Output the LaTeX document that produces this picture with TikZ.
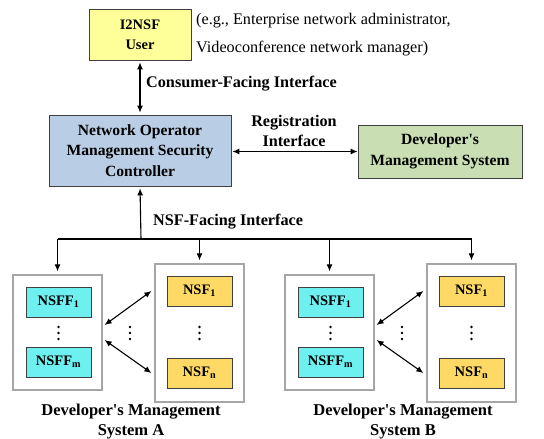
\documentclass[tikz,border=0pt]{standalone}
\usepackage{fontspec}
\setmainfont{Liberation Serif}
\usetikzlibrary{arrows.meta,shadows}
\definecolor{usercolor}{HTML}{FFFF99}
\definecolor{ctrlcolor}{HTML}{B9CDE5}
\definecolor{devcolor}{HTML}{C9DFB3}
\definecolor{nsffcolor}{HTML}{6EF0F0}
\definecolor{nsfcolor}{HTML}{FFD966}
\newcommand{\boxFont}{\bfseries\fontsize{14.5}{20}\selectfont}
\newcommand{\bigBoxFont}{\bfseries\fontsize{15.6}{20.5}\selectfont}
\newcommand{\labelFont}{\bfseries\fontsize{16.2}{20}\selectfont}

\begin{document}
\begin{tikzpicture}[x=1pt, y=-1pt,
		box/.style={draw=black!75, line width=0.8pt, inner sep=0pt, align=center, font=\boxFont,
			drop shadow={shadow xshift=1.2pt, shadow yshift=-1.2pt, opacity=0.3}},
		group/.style={draw=black!35, line width=1.3pt, fill=white, inner sep=0pt,
			drop shadow={shadow xshift=1pt, shadow yshift=-1pt, opacity=0.15}},
		func/.style={box, minimum width=65pt, minimum height=30pt},
		label/.style={font=\labelFont, align=center, inner sep=0pt},
		link/.style={line width=1.1pt, {Latex[length=7pt,width=6pt]}-{Latex[length=7pt,width=6pt]}},
		feed/.style={line width=1.1pt, -{Latex[length=7pt,width=6pt]}},
	]
	\useasboundingbox (0,0) rectangle (544,439);

	% top part
	\node[box, fill=usercolor, minimum width=102pt, minimum height=51pt] (user) at (140,34.5) {I2NSF\\User};
	\node[anchor=west, align=left, inner sep=0pt, font=\fontsize{16.2}{20}\selectfont] (example) at (196,34.5)
		{(e.g., Enterprise network administrator,\\[8pt]Videoconference network manager)};
	\node[box, fill=ctrlcolor, font=\bigBoxFont, minimum width=182pt, minimum height=71pt] (ctrl) at (140,150.5)
		{Network Operator\\Management Security\\Controller};
	\node[box, fill=devcolor, font=\bigBoxFont, minimum width=164pt, minimum height=53pt] (dms) at (440,151.5)
		{Developer\textquotesingle s\\Management System};

	\draw[link, shorten <=2pt, shorten >=2pt] (user) -- (ctrl);
	\node[label, anchor=west] (cfi) at (146,84) {Consumer-Facing Interface};

	\draw[link, shorten <=1pt] (ctrl.east |- dms) -- (dms.west);
	\node[label] (ri) at (294,131) {Registration\\Interface};

	\coordinate (bus) at (141,239);
	\node[label, anchor=west] (nfi) at (153,222) {NSF-Facing Interface};

	% the two developer's management systems
	\foreach \s/\dx in {A/0, B/272} {
		\begin{scope}[xshift=\dx]
			\node[group, minimum width=89pt, minimum height=115pt] (\s-left) at (57.5,332.5) {};
			\node[group, minimum width=89pt, minimum height=138pt] (\s-right) at (199.5,333) {};

			\node[func, fill=nsffcolor] (\s-nsff1) at (58.5,302) {NSFF\textsubscript{1}};
			\node[func, fill=nsffcolor] (\s-nsffm) at (58.5,362) {NSFF\textsubscript{m}};
			\node[func, fill=nsfcolor] (\s-nsf1) at (199.5,291) {NSF\textsubscript{1}};
			\node[func, fill=nsfcolor] (\s-nsfn) at (199.5,373) {NSF\textsubscript{n}};

			% vertical ellipses
			\foreach \cx in {58.5, 130, 199.5}
				\foreach \cy in {327, 333, 339}
					\fill (\cx,\cy) circle (1.3pt);

			\draw[link] ([xshift=2pt, yshift=7.5pt]\s-left.east) -- ([xshift=-3pt, yshift=42pt]\s-right.west);
			\draw[link] ([xshift=2pt, yshift=-7.5pt]\s-left.east) -- ([xshift=-3pt, yshift=-40pt]\s-right.west);

			\draw[feed, shorten >=3pt] (\s-left.north |- bus) -- (\s-left.north);
			\draw[feed, shorten >=3pt] (\s-right.north |- bus) -- (\s-right.north);

			\node[label, font=\bfseries\fontsize{16.5}{20}\selectfont] (\s-name) at (131,422)
				{Developer\textquotesingle s Management\\System \s};
		\end{scope}
	}

	\draw[line width=1.1pt] (A-left.north |- bus) -- (B-right.north |- bus);
	\draw[feed, shorten >=2pt] (bus) -- (ctrl.south);

\end{tikzpicture}
\end{document}
